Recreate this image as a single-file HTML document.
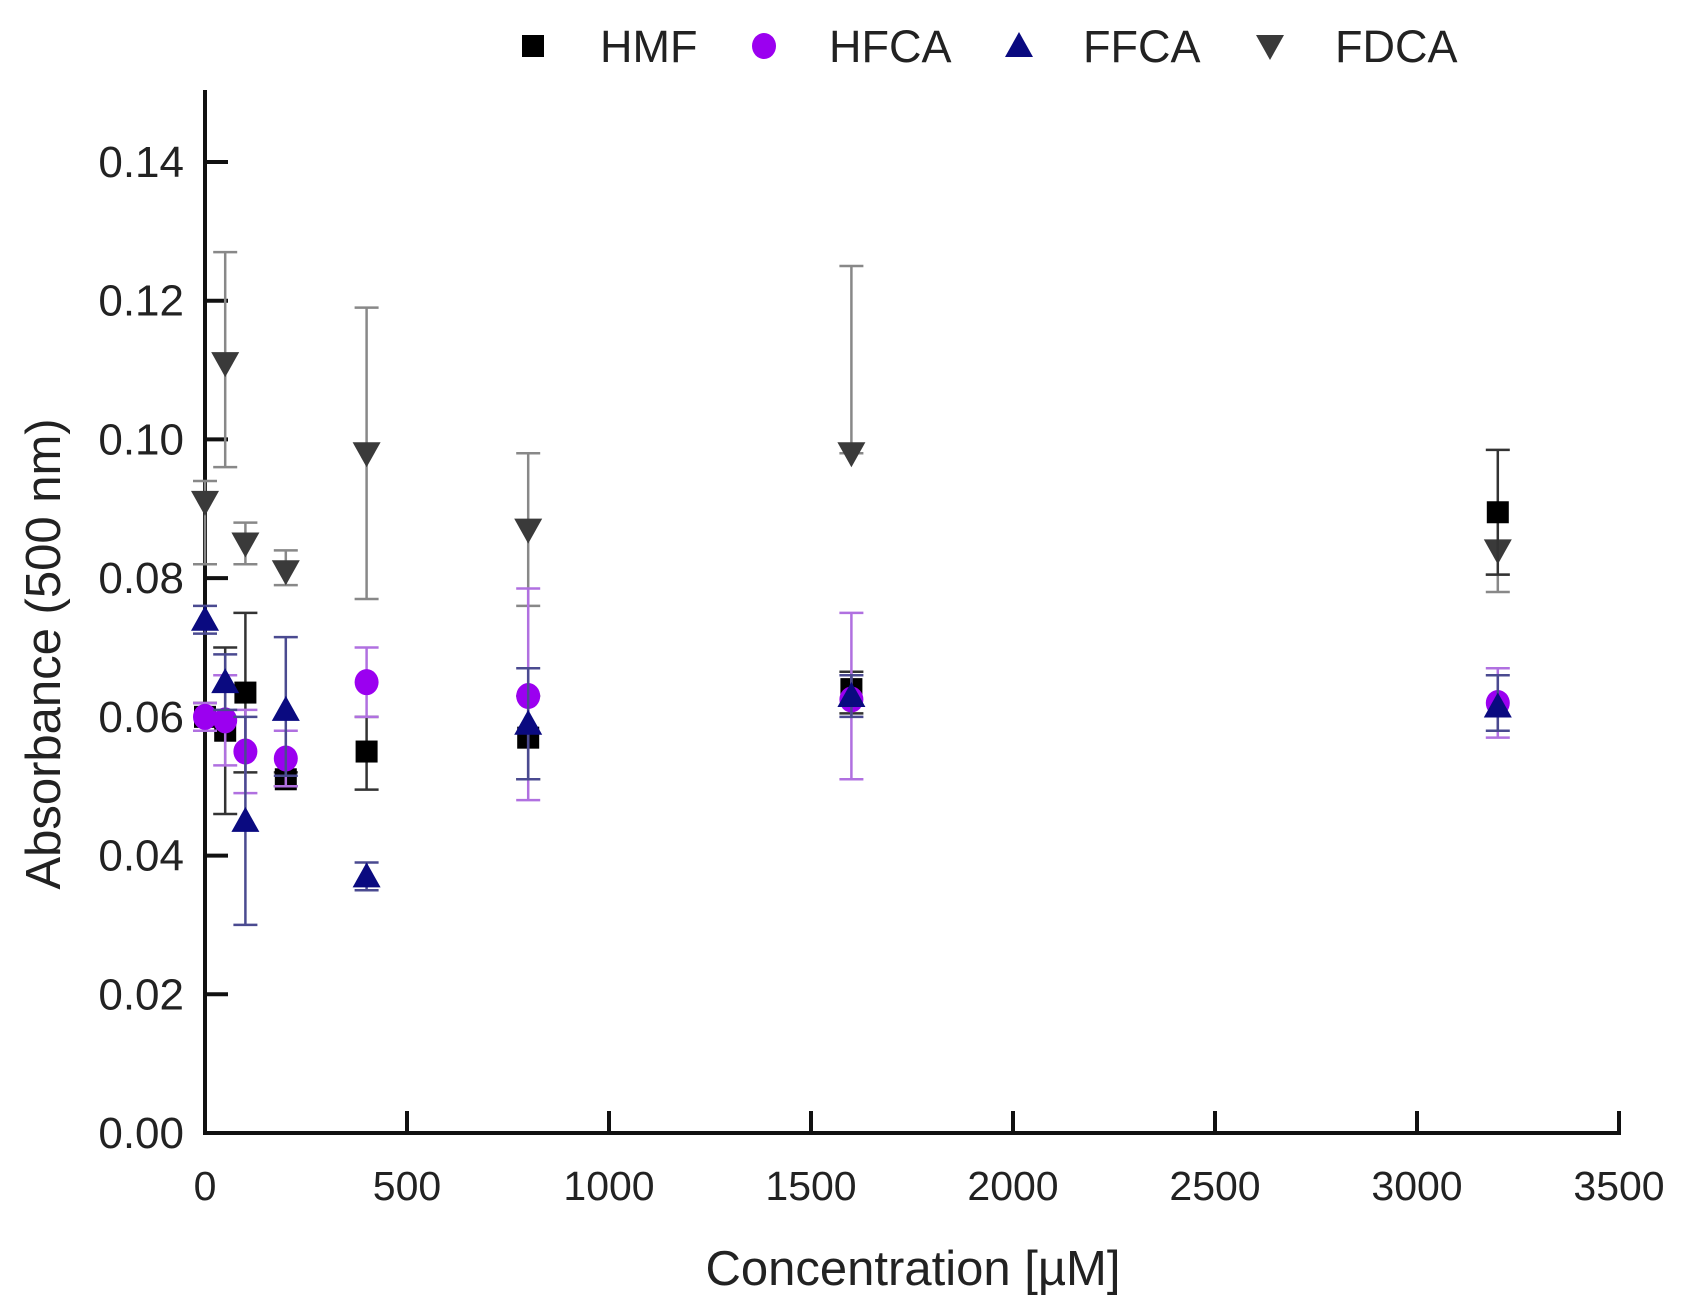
<!DOCTYPE html>
<html><head><meta charset="utf-8"><style>
html,body{margin:0;padding:0;background:#fff;}
svg{display:block;font-family:"Liberation Sans",Arial,sans-serif;}
</style></head><body>
<svg id="chart" width="1686" height="1307" viewBox="0 0 1686 1307" xmlns="http://www.w3.org/2000/svg">
<rect width="1686" height="1307" fill="#fff"/>
<g id="axes"></g>
<g id="marks"></g>
<g id="legend"></g>
<text x="913" y="1285" font-size="49" text-anchor="middle" fill="#222">Concentration [µM]</text>
<text transform="translate(60,654) rotate(-90)" font-size="49" text-anchor="middle" fill="#222">Absorbance (500 nm)</text>
</svg>
<script>
const concentrations=[0,50,100,200,400,800,1600,3200];
const hmfVal=[0.060,0.058,0.0635,0.051,0.055,0.057,0.064,0.0895];
const hmfLo=[0.058,0.046,0.052,0.050,0.0495,0.051,0.0605,0.0805];
const hmfHi=[0.062,0.070,0.075,0.052,0.060,0.063,0.0665,0.0985];
const hfcaVal=[0.060,0.0595,0.055,0.054,0.065,0.063,0.0625,0.062];
const hfcaLo=[0.058,0.053,0.049,0.050,0.060,0.048,0.051,0.057];
const hfcaHi=[0.062,0.066,0.061,0.058,0.070,0.0785,0.075,0.067];
const ffcaVal=[0.074,0.065,0.045,0.061,0.037,0.059,0.063,0.0615];
const ffcaLo=[0.072,0.061,0.030,0.0515,0.035,0.051,0.060,0.058];
const ffcaHi=[0.076,0.069,0.060,0.0715,0.039,0.067,0.066,0.066];
const fdcaVal=[0.091,0.111,0.085,0.081,0.098,0.087,0.098,0.084];
const fdcaLo=[0.082,0.096,0.082,0.079,0.077,0.076,0.098,0.078];
const fdcaHi=[0.094,0.127,0.088,0.084,0.119,0.098,0.125,0.0805];
const xTicks=[0,500,1000,1500,2000,2500,3000,3500];
const yTicks=[0,0.02,0.04,0.06,0.08,0.10,0.12,0.14];
const yTickLabels=["0.00","0.02","0.04","0.06","0.08","0.10","0.12","0.14"];

const NS="http://www.w3.org/2000/svg";
const X0=205,X1=1619,Y0=1133,YT=162;
const xs=v=>X0+(v/3500)*(X1-X0);
const ys=v=>Y0-(v/0.14)*(Y0-YT);
function mk(tag,attrs,parent){const e=document.createElementNS(NS,tag);for(const k in attrs)e.setAttribute(k,attrs[k]);parent.appendChild(e);return e;}
const axes=document.getElementById('axes');
let l=mk('line',{x1:X0,y1:90,x2:X0,y2:Y0+2,stroke:'#111','stroke-width':4},axes);


l=mk('line',{x1:X0-2,y1:Y0,x2:X1+2,y2:Y0,stroke:'#111','stroke-width':4},axes);


xTicks.forEach(t=>{
  const tk=mk('line',{x1:xs(t),y1:Y0,x2:xs(t),y2:Y0-22,stroke:'#111','stroke-width':4},axes);
  
  
  const tx=mk('text',{x:xs(t),y:1200,'font-size':41,'text-anchor':'middle',fill:'#222'},axes);
  tx.textContent=t;
  
  
});
yTicks.forEach((t,i)=>{
  const tk=mk('line',{x1:X0,y1:ys(t),x2:X0+23,y2:ys(t),stroke:'#111','stroke-width':4},axes);
  
  
  const tx=mk('text',{x:184,y:ys(t)+15,'font-size':44,'text-anchor':'end',fill:'#222'},axes);
  tx.textContent=yTickLabels[i];
  
  
});
const marks=document.getElementById('marks');
function marker(shape,cx,cy,color,parent){
  let e;
  if(shape==='square') e=mk('rect',{x:cx-11,y:cy-11,width:22,height:22,fill:color},parent);
  else if(shape==='circle') e=mk('ellipse',{cx:cx,cy:cy,rx:12,ry:13,fill:color},parent);
  else if(shape==='up') e=mk('polygon',{points:`${cx-14},${cy+11} ${cx+14},${cy+11} ${cx},${cy-14}`,fill:color},parent);
  else e=mk('polygon',{points:`${cx-14},${cy-11} ${cx+14},${cy-11} ${cx},${cy+14}`,fill:color},parent);
  return e;
}
const series=[
 {name:'fdca',vals:fdcaVal,lo:fdcaLo,hi:fdcaHi,color:'#3a3a3a',err:'#888',shape:'down'},
 {name:'hmf',vals:hmfVal,lo:hmfLo,hi:hmfHi,color:'#000',err:'#333',shape:'square'},
 {name:'hfca',vals:hfcaVal,lo:hfcaLo,hi:hfcaHi,color:'#9b00f0',err:'#b070e0',shape:'circle'},
 {name:'ffca',vals:ffcaVal,lo:ffcaLo,hi:ffcaHi,color:'#0a0a80',err:'#4a4a90',shape:'up'}
];
series.forEach(s=>{
  const g=mk('g',{},marks);
  
  
  concentrations.forEach((c,i)=>{
    const cx=xs(c);
    const eb=mk('g',{stroke:s.err,'stroke-width':2.5},g);
    
    
    mk('line',{x1:cx,y1:ys(s.lo[i]),x2:cx,y2:ys(s.hi[i])},eb);
    mk('line',{x1:cx-12,y1:ys(s.lo[i]),x2:cx+12,y2:ys(s.lo[i])},eb);
    mk('line',{x1:cx-12,y1:ys(s.hi[i]),x2:cx+12,y2:ys(s.hi[i])},eb);
    const m=marker(s.shape,cx,ys(s.vals[i]),s.color,g);
    
    
  });
});
const legend=document.getElementById('legend');
const legendItems=[['HMF','square','#000',533,600],['HFCA','circle','#9b00f0',764,829],['FFCA','up','#0a0a80',1019,1083],['FDCA','down','#3a3a3a',1270,1335]];
legendItems.forEach(it=>{
  const g=mk('g',{},legend);
  
  
  marker(it[1],it[3],46,it[2],g);
  const t=mk('text',{x:it[4],y:62,'font-size':45,fill:'#222'},g);
  t.textContent=it[0];
});
</script>
</body></html>
